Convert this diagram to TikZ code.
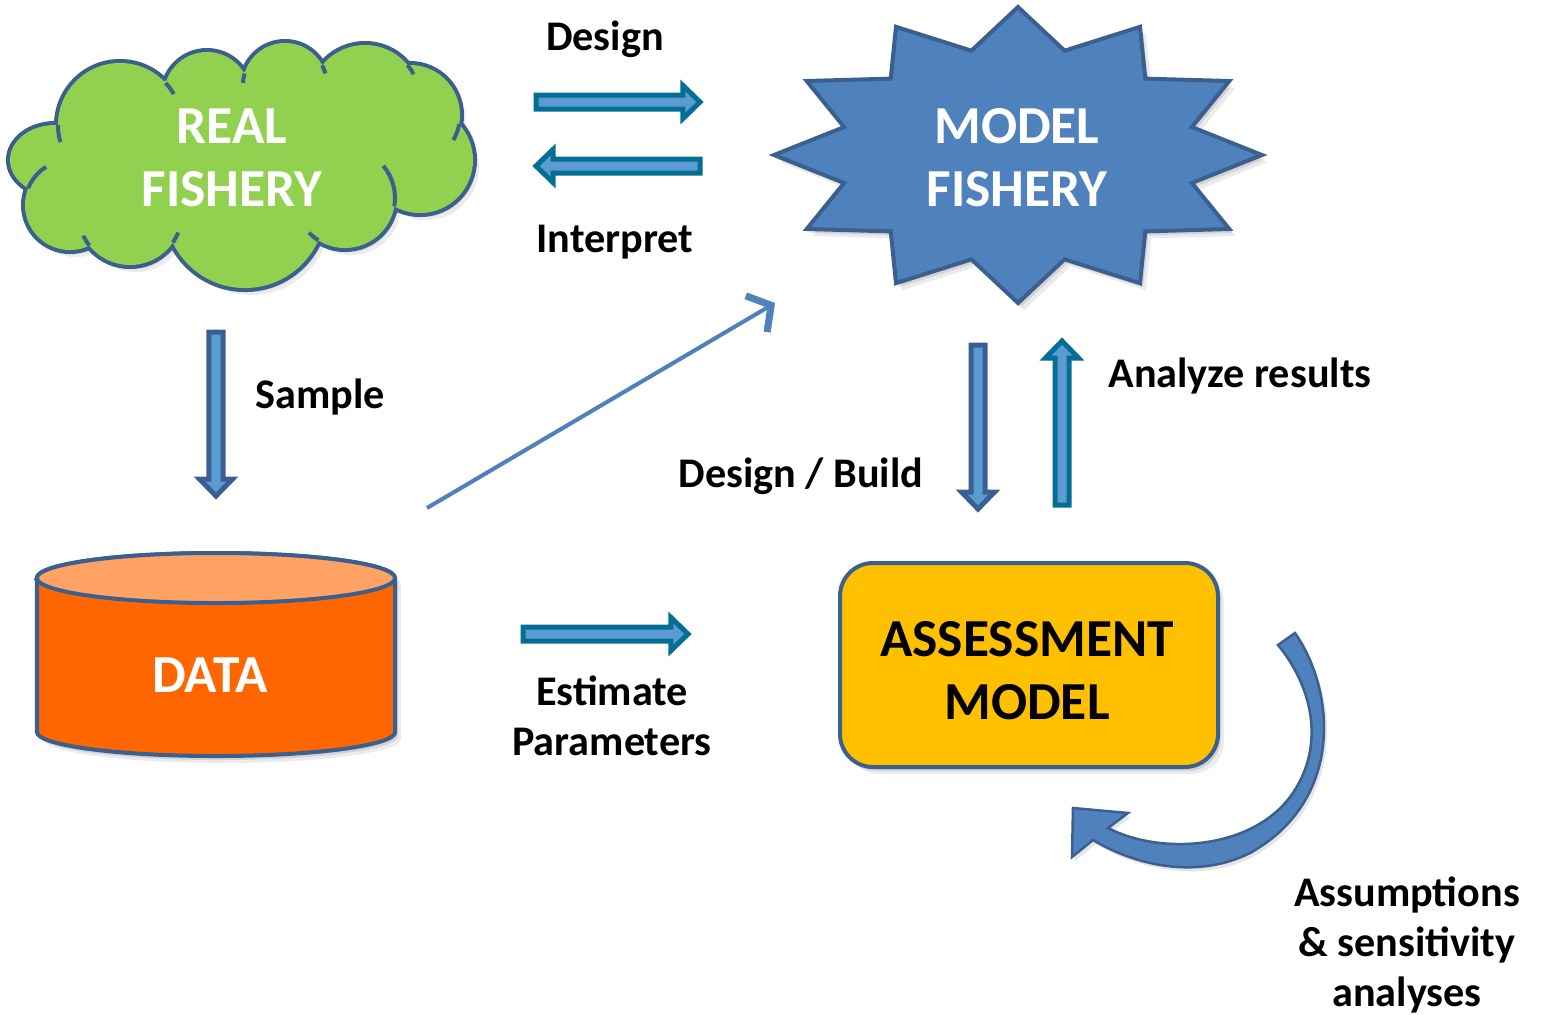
\documentclass[tikz,border=0pt]{standalone}
\usepackage{fontspec}
\setmainfont{Carlito}
\usetikzlibrary{calc,arrows.meta}
\definecolor{cloudgreen}{HTML}{92D050}
\definecolor{shapeborder}{HTML}{3B5F8E}
\definecolor{starblue}{HTML}{4F81BD}
\definecolor{dataorange}{HTML}{FF6600}
\definecolor{datatop}{HTML}{FFA264}
\definecolor{boxyellow}{HTML}{FFC000}
\definecolor{tealdark}{HTML}{046E94}
\definecolor{bluedark}{HTML}{3A6093}
\definecolor{arrowlight}{HTML}{5A9BD2}
% block arrow between two named coordinates
\newcommand\blockarrow[3]{%
  \draw[draw=#1, fill=arrowlight, line width=0.05cm, line join=miter]
   ($(#2)!0.07cm!90:(#3)$) --
   ($(#3)!0.17cm!(#2)!0.07cm!90:(#3)$) --
   ($(#3)!0.17cm!(#2)!0.165cm!90:(#3)$) --
   (#3) --
   ($(#3)!0.17cm!(#2)!0.165cm!-90:(#3)$) --
   ($(#3)!0.17cm!(#2)!0.07cm!-90:(#3)$) --
   ($(#2)!0.07cm!-90:(#3)$) -- cycle;}
% inner curl of the cloud: arc of a puff continuing inside
\newcommand\puffcurl[5]{% cx, cy, radius(cm), from angle, to angle
  \draw ([shift={(#1,#2)}]#4:#3cm) arc[start angle=#4, end angle=#5, radius=#3cm];}
\tikzset{
  cloudpuffs/.style={insert path={
    (120,125) circle[radius=0.62cm] (207,95) circle[radius=0.43cm]
    (285,85) circle[radius=0.42cm] (365,100) circle[radius=0.55cm]
    (410,115) circle[radius=0.50cm] (420,160) circle[radius=0.53cm]
    (345,198) circle[radius=0.50cm] (245,208) circle[radius=0.80cm]
    (130,213) circle[radius=0.52cm] (70,205) circle[radius=0.45cm]
    (55,160) ellipse[x radius=0.45cm, y radius=0.35cm]
    (240,160) ellipse[x radius=1.70cm, y radius=0.88cm]}},
  starpath/.style={insert path={(1018,7)
    \foreach \i in {0,...,11}{
      -- ({1018+180*cos(105+30*\i)},{155-108*sin(105+30*\i)})
      -- ({1018+244*cos(120+30*\i)},{155-148*sin(120+30*\i)}) } -- cycle}},
  cylpath/.style={insert path={(37,578) -- (37,732)
    arc[start angle=180, end angle=360, x radius=1.79cm, y radius=0.24cm]
    -- (395,578) arc[start angle=0, end angle=180, x radius=1.79cm, y radius=0.25cm] -- cycle}},
  curvpath/.style={insert path={(1295,633) .. controls (1335,690) and (1345,800) .. (1250,853)
    .. controls (1200,878) and (1140,868) .. (1093,840) -- (1072,857) -- (1073,808)
    -- (1128,813) -- (1108,828) .. controls (1160,855) and (1250,850) .. (1290,797)
    .. controls (1325,750) and (1315,690) .. (1278,645) -- cycle}},
  shadowA/.style={fill=black, opacity=0.10, xshift=0.03cm, yshift=-0.04cm},
  shadowB/.style={fill=black, opacity=0.08, xshift=0.06cm, yshift=-0.07cm},
  bigtext/.style={font=\fontsize{15.2pt}{17.9pt}\selectfont\bfseries, align=center, inner sep=0pt},
  lbl/.style={font=\fontsize{12pt}{14.2pt}\selectfont\bfseries, align=center, inner sep=0pt},
  shapeline/.style={draw=shapeborder, line width=0.04cm},
}
\begin{document}
\begin{tikzpicture}[x=0.01cm, y=-0.01cm]
\useasboundingbox (0,0) rectangle (1542,1014);

% ---------- REAL FISHERY cloud ----------
\fill[shadowB, cloudpuffs];
\fill[shadowA, cloudpuffs];
\draw[draw=shapeborder, line width=0.08cm, cloudpuffs];
\fill[cloudgreen, cloudpuffs];
\begin{scope}[shapeborder, line width=0.04cm]
  \puffcurl{120}{125}{0.62}{180}{196}
  \puffcurl{120}{125}{0.62}{42.6}{30}
  \puffcurl{285}{85}{0.42}{164}{177}
  \puffcurl{285}{85}{0.42}{27.7}{16}
  \puffcurl{365}{100}{0.55}{39.5}{28}
  \puffcurl{410}{115}{0.50}{-10.6}{-30}
  \puffcurl{345}{198}{0.50}{-9.6}{40}
  \puffcurl{345}{198}{0.50}{237.6}{224}
  \puffcurl{130}{213}{0.52}{-34.6}{-22}
  \puffcurl{130}{213}{0.52}{218.8}{206}
  \puffcurl{70}{205}{0.45}{158}{122}
\end{scope}
\node[bigtext, text=white] (real) at (232,157.5) {REAL\\FISHERY};

% ---------- MODEL FISHERY star ----------
\fill[shadowB, starpath];
\fill[shadowA, starpath];
\draw[shapeline, fill=starblue, line join=miter, starpath];
\node[bigtext, text=white] (model) at (1017,157.5) {MODEL\\FISHERY};

% ---------- DATA cylinder ----------
\fill[shadowB, cylpath];
\fill[shadowA, cylpath];
\draw[shapeline, fill=dataorange, cylpath];
\draw[shapeline, fill=datatop] (216,578) ellipse[x radius=1.79cm, y radius=0.25cm];
\node[bigtext, text=white, anchor=base] (data) at (210,692) {DATA};

% ---------- ASSESSMENT MODEL box ----------
\fill[shadowB, rounded corners=0.33cm] (840,563) rectangle (1218,767);
\fill[shadowA, rounded corners=0.33cm] (840,563) rectangle (1218,767);
\draw[shapeline, fill=boxyellow, rounded corners=0.33cm] (840,563) rectangle (1218,767);
\node[bigtext, text=black] (assess) at (1027,671) {ASSESSMENT\\MODEL};

% ---------- block arrows ----------
\coordinate (designS) at (536,102);  \coordinate (designT) at (700,102);
\coordinate (interpS) at (700,166);  \coordinate (interpT) at (536,166);
\coordinate (sampleS) at (216,332);  \coordinate (sampleT) at (216,496);
\coordinate (buildS)  at (978,345);  \coordinate (buildT)  at (978,509);
\coordinate (analyS)  at (1062,505); \coordinate (analyT)  at (1062,341);
\coordinate (estimS)  at (523,634);  \coordinate (estimT)  at (688,634);
\blockarrow{tealdark}{designS}{designT}
\blockarrow{tealdark}{interpS}{interpT}
\blockarrow{bluedark}{sampleS}{sampleT}
\blockarrow{bluedark}{buildS}{buildT}
\blockarrow{tealdark}{analyS}{analyT}
\blockarrow{tealdark}{estimS}{estimT}

% ---------- thin arrow DATA -> MODEL ----------
\coordinate (fromdata) at (427,508);
\coordinate (tomodel) at (775,303);
\draw[black, opacity=0.12, line width=0.04cm, xshift=0.03cm, yshift=-0.04cm,
  -{Straight Barb[length=0.17cm, width=0.42cm, line width=0.07cm]}] (fromdata) -- (tomodel);
\draw[starblue, line width=0.04cm,
  -{Straight Barb[length=0.17cm, width=0.42cm, line width=0.07cm]}] (fromdata) -- (tomodel);

% ---------- curved arrow ----------
\fill[shadowA, curvpath];
\draw[draw=shapeborder, line width=0.025cm, fill=starblue, line join=miter, curvpath];

% ---------- labels ----------
\node[lbl, anchor=base] (lDesign) at (605,50) {Design};
\node[lbl, anchor=base] (lInterp) at (615,252) {Interpret};
\node[lbl, anchor=base] (lSample) at (320,408) {Sample};
\node[lbl, anchor=base] (lBuild) at (801,487) {Design / Build};
\node[lbl, anchor=base] (lAnaly) at (1240,387) {Analyze results};
\node[lbl, anchor=south] (lEstim) at (612,756) {Estimate\\Parameters};
\node[lbl, anchor=north] (lAssum) at (1407,876) {Assumptions\\\& sensitivity\\analyses};
\end{tikzpicture}
\end{document}
